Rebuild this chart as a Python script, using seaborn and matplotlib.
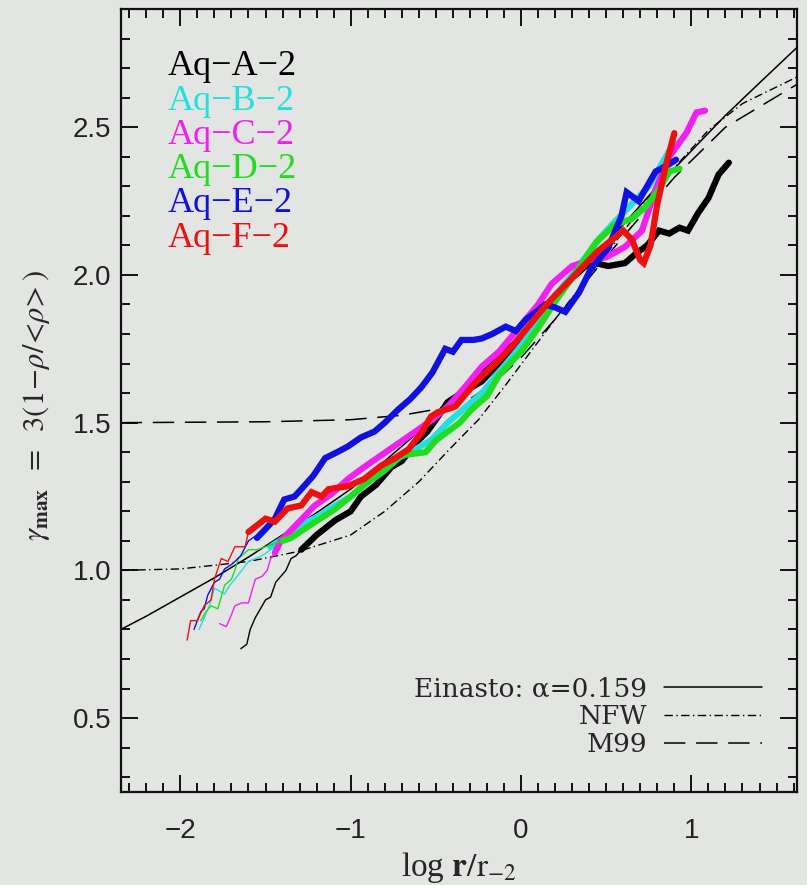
import matplotlib
matplotlib.use("Agg")
import matplotlib.pyplot as plt
import pandas as pd
import seaborn as sns
from matplotlib.ticker import MultipleLocator, FormatStrFormatter

sns.set_style("ticks")
plt.rcParams['font.family'] = ['Liberation Serif', 'DejaVu Serif']
plt.rcParams['mathtext.fontset'] = 'stix'

bg = '#e3e5e2'

# halo names and colours
halos = ['Aq−A−2', 'Aq−B−2', 'Aq−C−2', 'Aq−D−2', 'Aq−E−2', 'Aq−F−2']
colors = ['#000000', '#22e0e0', '#f020f0', '#20dd20', '#1010e0', '#ee1010']

# inner (unconverged) parts, thin lines
a_thin_x = [-1.645, -1.61, -1.59, -1.56, -1.54, -1.50, -1.47, -1.44, -1.41, -1.38, -1.35, -1.32, -1.29]
a_thin_y = [0.735, 0.75, 0.80, 0.84, 0.86, 0.90, 0.91, 0.96, 0.98, 1.00, 1.04, 1.05, 1.07]
b_thin_x = [-1.89, -1.86, -1.83, -1.80, -1.77, -1.74, -1.71, -1.68, -1.64, -1.60, -1.56, -1.52, -1.47]
b_thin_y = [0.80, 0.84, 0.88, 0.94, 0.93, 0.92, 0.95, 0.97, 1.00, 1.03, 1.04, 1.05, 1.07]
c_thin_x = [-1.77, -1.73, -1.70, -1.68, -1.64, -1.60, -1.58, -1.56, -1.52, -1.49, -1.47, -1.445]
c_thin_y = [0.82, 0.81, 0.85, 0.88, 0.89, 0.89, 0.93, 0.97, 0.98, 1.00, 1.04, 1.06]
d_thin_x = [-1.88, -1.85, -1.82, -1.78, -1.76, -1.74, -1.70, -1.68, -1.66, -1.60, -1.55, -1.50, -1.45, -1.40]
d_thin_y = [0.83, 0.86, 0.88, 0.87, 0.91, 0.95, 0.97, 1.00, 1.04, 1.07, 1.07, 1.08, 1.09, 1.10]
e_thin_x = [-1.92, -1.90, -1.88, -1.86, -1.84, -1.80, -1.77, -1.74, -1.70, -1.68, -1.645, -1.60, -1.55]
e_thin_y = [0.80, 0.83, 0.86, 0.87, 0.915, 0.96, 0.97, 1.005, 1.02, 1.03, 1.05, 1.10, 1.12]
f_thin_x = [-1.96, -1.94, -1.90, -1.86, -1.82, -1.80, -1.76, -1.72, -1.68, -1.62, -1.60]
f_thin_y = [0.764, 0.83, 0.83, 0.88, 0.90, 0.97, 1.04, 1.03, 1.08, 1.08, 1.13]

# converged parts, thick lines
a_x = [-1.29, -1.2, -1.09, -1.0, -0.94, -0.85, -0.76, -0.7, -0.62, -0.55, -0.5, -0.43, -0.35, -0.23,
       -0.1, 0.0, 0.1, 0.2, 0.3, 0.38, 0.44, 0.51, 0.61, 0.67, 0.74, 0.81, 0.87, 0.93, 0.98, 1.04,
       1.10, 1.16, 1.22]
a_y = [1.07, 1.12, 1.17, 1.20, 1.25, 1.29, 1.35, 1.37, 1.43, 1.47, 1.51, 1.57, 1.60, 1.64,
       1.72, 1.79, 1.86, 1.93, 1.99, 2.03, 2.04, 2.03, 2.04, 2.07, 2.10, 2.15, 2.14, 2.16, 2.15, 2.21,
       2.26, 2.34, 2.38]
b_x = [-1.47, -1.39, -1.31, -1.2, -1.09, -1.0, -0.92, -0.82, -0.72, -0.62, -0.53, -0.43, -0.33, -0.23,
       -0.13, 0.0, 0.1, 0.2, 0.3, 0.455, 0.55, 0.65, 0.75, 0.82, 0.87, 0.91]
b_y = [1.08, 1.11, 1.15, 1.18, 1.22, 1.25, 1.29, 1.33, 1.38, 1.41, 1.44, 1.50, 1.55, 1.60,
       1.67, 1.76, 1.84, 1.93, 2.00, 2.12, 2.18, 2.24, 2.30, 2.37, 2.42, 2.445]
c_x = [-1.445, -1.41, -1.31, -1.21, -1.11, -1.015, -0.92, -0.82, -0.72, -0.62, -0.52, -0.43, -0.33,
       -0.23, -0.13, 0.0, 0.1, 0.18, 0.3, 0.4, 0.5, 0.61, 0.71, 0.79, 0.87, 0.97, 1.03, 1.08]
c_y = [1.06, 1.10, 1.16, 1.22, 1.26, 1.31, 1.35, 1.39, 1.43, 1.47, 1.51, 1.555, 1.62,
       1.69, 1.74, 1.83, 1.90, 1.97, 2.03, 2.05, 2.06, 2.095, 2.15, 2.29, 2.40, 2.48, 2.55, 2.556]
d_x = [-1.40, -1.35, -1.22, -1.11, -1.0, -0.92, -0.80, -0.70, -0.56, -0.50, -0.43, -0.36, -0.29, -0.2,
       -0.13, 0.0, 0.1, 0.2, 0.3, 0.44, 0.55, 0.65, 0.73, 0.81, 0.87, 0.93]
d_y = [1.10, 1.11, 1.16, 1.20, 1.25, 1.29, 1.34, 1.39, 1.40, 1.44, 1.47, 1.50, 1.545, 1.59,
       1.66, 1.74, 1.82, 1.91, 1.99, 2.11, 2.17, 2.19, 2.23, 2.29, 2.35, 2.36]
e_x = [-1.55, -1.50, -1.445, -1.39, -1.33, -1.29, -1.22, -1.15, -1.08, -1.015, -0.94, -0.86, -0.80,
       -0.72, -0.65, -0.585, -0.52, -0.445, -0.40, -0.35, -0.28, -0.23, -0.17, -0.09, -0.03, 0.03,
       0.09, 0.14, 0.2, 0.26, 0.34, 0.41, 0.51, 0.59, 0.62, 0.69, 0.75, 0.79, 0.87, 0.91]
e_y = [1.11, 1.14, 1.175, 1.24, 1.25, 1.275, 1.32, 1.38, 1.40, 1.42, 1.45, 1.47, 1.50,
       1.545, 1.58, 1.62, 1.67, 1.75, 1.74, 1.78, 1.78, 1.785, 1.80, 1.825, 1.81, 1.85,
       1.875, 1.90, 1.89, 1.875, 1.94, 2.02, 2.09, 2.20, 2.28, 2.25, 2.31, 2.35, 2.375, 2.39]
f_x = [-1.60, -1.50, -1.445, -1.37, -1.29, -1.23, -1.17, -1.13, -1.015, -0.92, -0.82, -0.74, -0.66,
       -0.58, -0.53, -0.49, -0.385, -0.27, -0.15, -0.05, 0.05, 0.15, 0.3, 0.45, 0.6, 0.65, 0.70, 0.72,
       0.76, 0.80, 0.85, 0.90]
f_y = [1.13, 1.175, 1.165, 1.21, 1.22, 1.265, 1.25, 1.275, 1.285, 1.31, 1.355, 1.38, 1.41,
       1.47, 1.52, 1.535, 1.555, 1.635, 1.70, 1.76, 1.83, 1.90, 1.99, 2.08, 2.15, 2.12, 2.05, 2.04,
       2.10, 2.24, 2.37, 2.48]

# fitted profiles
ein_x = [-2.35, -2.2, -2.0, -1.8, -1.6, -1.4, -1.2, -1.0, -0.8, -0.6, -0.4, -0.2, 0.0, 0.2, 0.4,
         0.6, 0.8, 1.0, 1.2, 1.4, 1.62]
ein_y = [0.80, 0.845, 0.91, 0.975, 1.045, 1.12, 1.195, 1.275, 1.37, 1.47, 1.58, 1.69, 1.80, 1.92,
         2.05, 2.17, 2.30, 2.42, 2.54, 2.65, 2.77]
nfw_x = [-2.35, -2.0, -1.6, -1.3, -1.0, -0.8, -0.6, -0.42, -0.25, -0.1, 0.2, 0.5, 0.8, 1.1, 1.3, 1.62]
nfw_y = [1.0, 1.005, 1.03, 1.065, 1.12, 1.2, 1.3, 1.41, 1.51, 1.62, 1.85, 2.07, 2.3, 2.49, 2.58, 2.67]
m99_x = [-2.35, -1.5, -1.0, -0.7, -0.5, -0.3, -0.15, 0.0, 0.2, 0.4, 0.6, 0.9, 1.2, 1.62]
m99_y = [1.5, 1.503, 1.51, 1.525, 1.545, 1.58, 1.64, 1.72, 1.85, 1.99, 2.13, 2.33, 2.5, 2.645]

thin = [(a_thin_x, a_thin_y), (b_thin_x, b_thin_y), (c_thin_x, c_thin_y),
        (d_thin_x, d_thin_y), (e_thin_x, e_thin_y), (f_thin_x, f_thin_y)]
thick = [(a_x, a_y), (b_x, b_y), (c_x, c_y), (d_x, d_y), (e_x, e_y), (f_x, f_y)]

rows = []
for name, (tx, ty), (kx, ky) in zip(halos, thin, thick):
    for i, (x, y) in enumerate(zip(tx, ty)):
        rows.append({'halo': name, 'part': 'thin', 'i': i, 'x': x, 'y': y})
    for i, (x, y) in enumerate(zip(kx, ky)):
        rows.append({'halo': name, 'part': 'thick', 'i': i, 'x': x, 'y': y})
df = pd.DataFrame(rows)

fig = plt.figure(figsize=(8.07, 8.85), dpi=100, facecolor=bg)
ax = fig.add_axes([0.1496, 0.1051, 0.838, 0.8847])
ax.set_facecolor(bg)

# fits
sns.lineplot(x=ein_x, y=ein_y, color='black', lw=1.1, ax=ax, sort=False, estimator=None,
             label='Einasto: α=0.159')
sns.lineplot(x=nfw_x, y=nfw_y, color='black', lw=1.0, ax=ax, sort=False, estimator=None,
             dashes=False, label='NFW')
ax.lines[-1].set_dashes((6, 2.5, 1, 2.5))
sns.lineplot(x=m99_x, y=m99_y, color='black', lw=1.1, ax=ax, sort=False, estimator=None,
             label='M99')
ax.lines[-1].set_dashes((14, 7))
fit_handles = ax.lines[-3:]

# simulations
for name, col in zip(halos, colors):
    sub = df[df.halo == name]
    sns.lineplot(data=sub[sub.part == 'thin'], x='x', y='y', color=col, lw=1.0, ax=ax,
                 sort=False, estimator=None, legend=False)
    sns.lineplot(data=sub[sub.part == 'thick'], x='x', y='y', color=col, lw=4.5, ax=ax,
                 sort=False, estimator=None, legend=False, solid_joinstyle='miter')

ax.set_xlim(-2.35, 1.62)
ax.set_ylim(0.25, 2.9)
ax.xaxis.set_major_locator(MultipleLocator(1))
ax.xaxis.set_minor_locator(MultipleLocator(0.1))
ax.yaxis.set_major_locator(MultipleLocator(0.5))
ax.yaxis.set_minor_locator(MultipleLocator(0.1))
ax.yaxis.set_major_formatter(FormatStrFormatter('%.1f'))
ax.tick_params(which='both', direction='in', top=True, right=True, width=1.4, color='#111111',
               labelsize=20, labelcolor='#222222')
ax.tick_params(which='major', length=12)
ax.tick_params(which='minor', length=6.5)
ax.tick_params(axis='x', which='major', pad=19)
ax.tick_params(axis='y', which='major', pad=7)
for lab in ax.get_xticklabels() + ax.get_yticklabels():
    lab.set_family('Liberation Sans')
for sp in ax.spines.values():
    sp.set_linewidth(1.6)
    sp.set_color('#111111')

ax.set_xlabel(r'log $\mathbf{r}/\mathrm{r}_{-2}$', fontsize=24, labelpad=4)
ax.set_ylabel(r'$\gamma_{\mathbf{max}}\;\ =\;\ 3(1\!-\!\rho/\!<\!\rho\!>)$', fontsize=22)
ax.yaxis.set_label_coords(-0.102, 0.494)

# coloured names, top left
for k, (name, col) in enumerate(zip(halos, colors)):
    ax.text(0.070, 0.926 - k * 0.0437, name, color=col, fontsize=26, va='center', ha='left',
            transform=ax.transAxes)

leg = ax.legend(handles=fit_handles, labels=['Einasto: α=0.159', 'NFW', 'M99'],
                loc='lower right', bbox_to_anchor=(0.948, 0.045), frameon=False,
                markerfirst=False, handlelength=3.7, handletextpad=0.65,
                labelspacing=0.1, borderpad=0, borderaxespad=0,
                prop={'family': 'DejaVu Serif', 'size': 19})

fig.savefig('out.png', dpi=100, facecolor=bg)
